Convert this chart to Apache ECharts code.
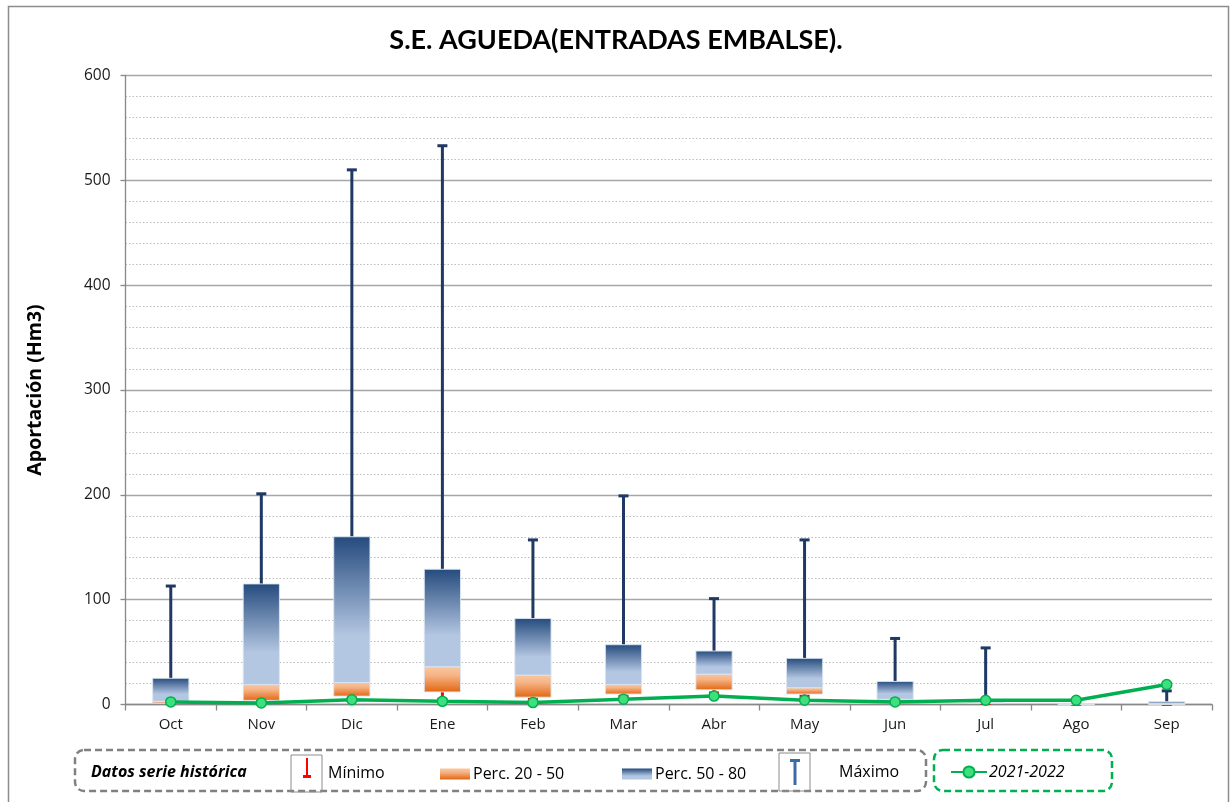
<!DOCTYPE html>
<html>
<head>
<meta charset="utf-8">
<script src="https://cdn.jsdelivr.net/npm/echarts@6/dist/echarts.min.js"></script>
<style>
html,body{margin:0;padding:0;background:#fff;}
#chart{width:1232px;height:802px;}
</style>
</head>
<body>
<div id="chart"></div>
<script>
// ---- data ----
const categories = ['Oct','Nov','Dic','Ene','Feb','Mar','Abr','May','Jun','Jul','Ago','Sep'];
const minimo   = [1,   3,   7,   5,   5,   8,   11,  8,   2,   1,   0,   0];
const perc20   = [1.3, 4,   8,   12,  7,   10,  14,  10,  3,   1,   0.2, 0.3];
const perc50   = [3,   19,  21,  36,  28,  19,  29,  16,  5,   2.5, 0.5, 0.6];
const perc80   = [25,  115, 160, 129, 82,  57,  51,  44,  22,  2.6, 1,   2.6];
const maximo   = [113, 201, 510, 533, 157, 199, 101, 157, 63,  54,  1.5, 13];
const serie2122 = [2.5, 1.5, 4.5, 3, 1.8, 5, 8, 4, 2.5, 4, 4, 19];
const yTicks = [0, 100, 200, 300, 400, 500, 600];

const chart = echarts.init(document.getElementById('chart'), null, {renderer:'canvas'});
const LG = echarts.graphic.LinearGradient;
const orangeGrad = () => new LG(0,0,0,1,[{offset:0,color:'#f9c9a0'},{offset:0.35,color:'#f6b386'},{offset:1,color:'#e2650f'}]);
const blueGrad = () => new LG(0,0,0,1,[{offset:0,color:'#244a7d'},{offset:0.68,color:'#b4c7e2'},{offset:1,color:'#b4c7e2'}]);
const navy = '#1f3864';
const FONT = 'Open Sans';

function boxRender(gradFn){
  return function(params, api){
    const i = api.value(0);
    const lo = api.coord([i, api.value(1)]);
    const hi = api.coord([i, api.value(2)]);
    const w = api.size([1,0])[0]*0.4;
    return {type:'rect', shape:{x:lo[0]-w/2, y:hi[1], width:w, height:Math.max(lo[1]-hi[1],0.8)},
      style:{fill:gradFn(), stroke:'rgba(220,230,242,0.9)', lineWidth:1}};
  };
}
function whiskerRender(color, capAtTop){
  return function(params, api){
    const i = api.value(0);
    const lo = api.coord([i, api.value(1)]);
    const hi = api.coord([i, api.value(2)]);
    const capY = capAtTop ? hi[1] : lo[1];
    return {type:'group', children:[
      {type:'line', shape:{x1:lo[0], y1:lo[1], x2:hi[0], y2:hi[1]}, style:{stroke:color, lineWidth:3}},
      {type:'line', shape:{x1:lo[0]-5, y1:capY, x2:lo[0]+5, y2:capY}, style:{stroke:color, lineWidth:3}}
    ]};
  };
}

const idx = categories.map((c,i)=>i);
const option = {
  animation:false,
  backgroundColor:'#fff',
  textStyle:{fontFamily:FONT},
  title:{text:'S.E. AGUEDA(ENTRADAS EMBALSE).', left:'center', top:22,
    textStyle:{fontFamily:'Lato', fontWeight:'bold', fontSize:27, color:'#000'}},
  grid:{left:125.5, right:20, top:75.5, bottom:97.5, containLabel:false},
  xAxis:{type:'category', data:categories, boundaryGap:true,
    axisLine:{lineStyle:{color:'#888', width:1.3}},
    axisTick:{show:true, length:6, lineStyle:{color:'#888', width:1.3}},
    axisLabel:{color:'#1a1a1a', fontSize:15, fontFamily:FONT, margin:13},
    splitLine:{show:false}},
  yAxis:{type:'value', min:0, max:600, interval:100,
    name:'Aportación (Hm3)', nameLocation:'middle', nameGap:80, nameRotate:90,
    nameTextStyle:{fontFamily:FONT, fontWeight:'bold', fontSize:19.5, color:'#000'},
    axisLine:{show:true, lineStyle:{color:'#888', width:1.3}},
    axisTick:{show:true, length:5, lineStyle:{color:'#888', width:1.3}},
    axisLabel:{color:'#1a1a1a', fontSize:15.5, fontFamily:FONT, margin:15,
      formatter:v=> yTicks.indexOf(v)>=0 ? String(v) : ''},
    splitLine:{show:true, lineStyle:{color:'#a6a6a6', width:1.3}},
    minorTick:{show:false, splitNumber:5},
    minorSplitLine:{show:true, lineStyle:{color:'#bdbdbd', type:[1.5,2], width:1}}},
  legend:[
    {data:[{name:'Mínimo', icon:'path://M3,0 H5 V17 H8 V20 H0 V17 H3 Z', itemStyle:{color:'#ff0000'}}],
      left:303, top:758, padding:0, itemWidth:8, itemHeight:20,
      formatter:'{a|{name}}',
      textStyle:{fontSize:16, fontFamily:FONT, color:'#000',
        rich:{a:{fontSize:16, fontFamily:FONT, color:'#000', padding:[10,0,0,12]}}}},
    {data:[{name:'Perc. 20 - 50', icon:'rect', itemStyle:{color:orangeGrad()}}],
      left:440, top:766, padding:0, itemWidth:30, itemHeight:11,
      textStyle:{fontSize:16, fontFamily:FONT, color:'#000', padding:[0,0,0,-2]}},
    {data:[{name:'Perc. 50 - 80', icon:'rect', itemStyle:{color:blueGrad()}}],
      left:622, top:766, padding:0, itemWidth:30, itemHeight:11,
      textStyle:{fontSize:16, fontFamily:FONT, color:'#000', padding:[0,0,0,-2]}},
    {data:[{name:'Máximo', icon:'path://M0,0 H10 V3 H6.5 V26 H3.5 V3 H0 Z', itemStyle:{color:'#3c6ca8'}}],
      left:790, top:759, padding:0, itemWidth:10, itemHeight:26,
      textStyle:{fontSize:16, fontFamily:FONT, color:'#000', padding:[0,0,0,34]}},
    {data:['2021-2022'], left:950, top:764, padding:0, itemWidth:36, itemHeight:14,
      textStyle:{fontSize:16, fontFamily:FONT, fontStyle:'italic', color:'#000', padding:[0,0,0,-3]}}
  ],
  graphic:[
    {type:'rect', left:6, top:4, shape:{width:1220, height:810}, style:{fill:'none', stroke:'#8c8c8c', lineWidth:1.5}, silent:true},
    {type:'rect', x:75, y:750, shape:{width:851, height:41, r:9}, style:{fill:'none', stroke:'#808080', lineWidth:2.5, lineDash:[7,4]}, silent:true},
    {type:'rect', x:934, y:750, shape:{width:178, height:41, r:9}, style:{fill:'none', stroke:'#00b050', lineWidth:2.5, lineDash:[7,4]}, silent:true},
    {type:'rect', x:291, y:755, shape:{width:31, height:37}, style:{fill:'none', stroke:'#8c8c8c', lineWidth:1}, silent:true},
    {type:'rect', x:779, y:753, shape:{width:31, height:38}, style:{fill:'none', stroke:'#8c8c8c', lineWidth:1}, silent:true},
    {type:'text', x:91, y:772, style:{text:'Datos serie histórica', font:'italic bold 16px "Open Sans"', fill:'#000', textVerticalAlign:'middle'}, silent:true}
  ],
  series:[
    {name:'Máximo', type:'custom', renderItem:whiskerRender(navy, true),
      itemStyle:{color:navy}, encode:{x:0, y:[1,2]},
      data: idx.map(i=>[i, perc80[i], maximo[i]]), z:2},
    {name:'Mínimo', type:'custom', renderItem:whiskerRender('#ff0000', false),
      itemStyle:{color:'#ff0000'}, encode:{x:0, y:[1,2]},
      data: idx.map(i=>[i, minimo[i], perc20[i]]), z:2},
    {name:'Perc. 20 - 50', type:'custom', renderItem:boxRender(orangeGrad),
      itemStyle:{color:'#f08a3c'}, encode:{x:0, y:[1,2]},
      data: idx.map(i=>[i, perc20[i], perc50[i]]), z:3},
    {name:'Perc. 50 - 80', type:'custom', renderItem:boxRender(blueGrad),
      itemStyle:{color:'#4a6fa0'}, encode:{x:0, y:[1,2]},
      data: idx.map(i=>[i, perc50[i], perc80[i]]), z:3},
    {name:'2021-2022', type:'line', data:serie2122, z:10,
      symbol:'circle', symbolSize:10,
      lineStyle:{color:'#00b050', width:3.5},
      itemStyle:{color:'#3de07c', borderColor:'#00b050', borderWidth:1.5}}
  ]
};
chart.setOption(option);
</script>
</body>
</html>
